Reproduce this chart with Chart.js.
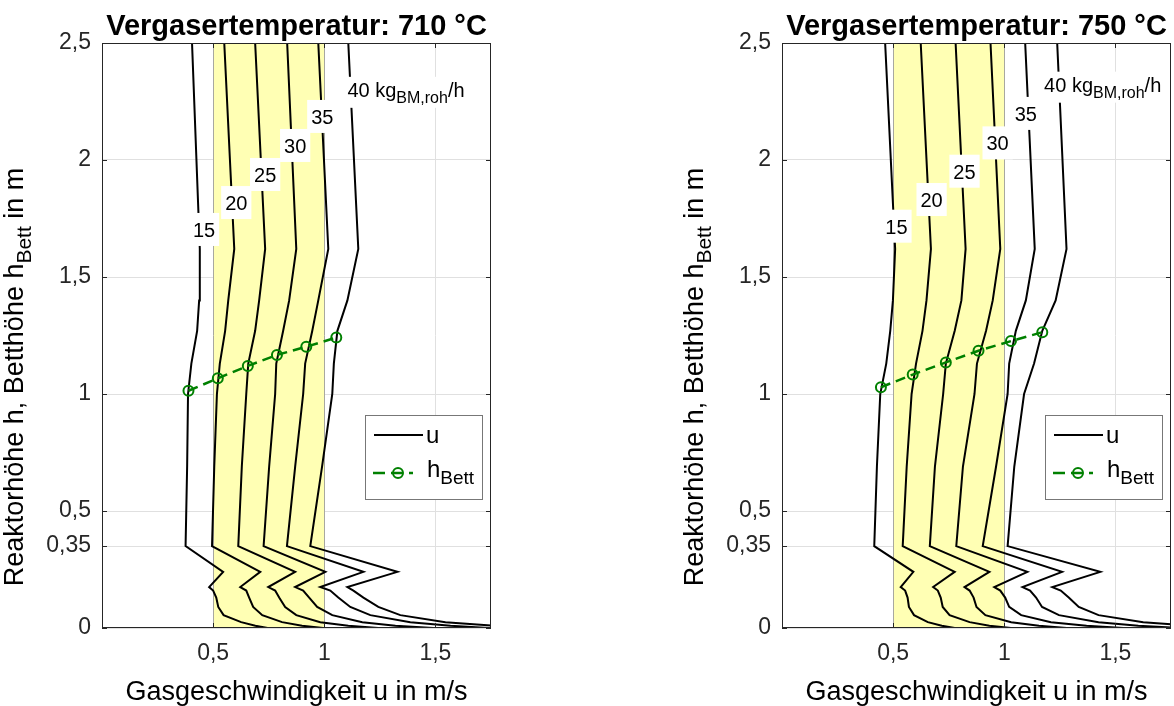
<!DOCTYPE html>
<html>
<head>
<meta charset="utf-8">
<script src="https://cdn.jsdelivr.net/npm/chart.js@4.4.1/dist/chart.umd.min.js"></script>
<style>
  html, body { margin: 0; padding: 0; background: #fff; overflow: hidden; }
  canvas { position: absolute; top: 0; }
  #chart710 { left: 0; }
  #chart750 { left: 680px; }
</style>
</head>
<body>
<canvas id="chart710" width="587" height="706"></canvas>
<canvas id="chart750" width="587" height="706"></canvas>
<script>
const FONT = '"Liberation Sans", Arial, Helvetica, sans-serif';

// Reaktorhöhe h (m), gemeinsame Stützstellen aller Kurven
const heights = [0, 0.01, 0.025, 0.055, 0.09, 0.13, 0.16, 0.175, 0.24, 0.35, 0.69, 1.0, 1.13, 1.27, 1.4, 1.62, 2.5];
const loads = [15, 20, 25, 30, 35, 40];

// Gasgeschwindigkeit u (m/s), 710 °C
const u710_15 = [0.745, 0.69, 0.626, 0.547, 0.523, 0.514, 0.5, 0.482, 0.545, 0.376, 0.383, 0.387, 0.402, 0.428, 0.437, 0.44, 0.405];
const u710_20 = [0.995, 0.9, 0.81, 0.721, 0.68, 0.662, 0.649, 0.622, 0.712, 0.495, 0.505, 0.517, 0.53, 0.554, 0.568, 0.595, 0.55];
const u710_25 = [1.243, 1.108, 0.982, 0.874, 0.824, 0.797, 0.779, 0.748, 0.869, 0.613, 0.629, 0.649, 0.658, 0.689, 0.707, 0.734, 0.689];
const u710_30 = [1.49, 1.32, 1.171, 1.036, 0.968, 0.932, 0.905, 0.869, 1.005, 0.727, 0.752, 0.779, 0.784, 0.815, 0.842, 0.874, 0.833];
const u710_35 = [1.739, 1.568, 1.387, 1.207, 1.117, 1.063, 1.027, 0.982, 1.176, 0.832, 0.869, 0.905, 0.914, 0.946, 0.973, 1.018, 0.973];
const u710_40 = [1.97, 1.757, 1.545, 1.342, 1.243, 1.176, 1.131, 1.104, 1.329, 0.937, 0.99, 1.036, 1.043, 1.059, 1.104, 1.153, 1.108];

// Gasgeschwindigkeit u (m/s), 750 °C
const u750_15 = [0.777, 0.719, 0.656, 0.594, 0.571, 0.565, 0.554, 0.534, 0.591, 0.415, 0.427, 0.442, 0.469, 0.487, 0.499, 0.509, 0.464];
const u750_20 = [1.03, 0.933, 0.844, 0.754, 0.723, 0.714, 0.701, 0.68, 0.777, 0.543, 0.561, 0.583, 0.603, 0.632, 0.65, 0.67, 0.624];
const u750_25 = [1.281, 1.156, 1.031, 0.915, 0.875, 0.862, 0.844, 0.821, 0.933, 0.665, 0.688, 0.725, 0.737, 0.777, 0.807, 0.826, 0.781];
const u750_30 = [1.536, 1.37, 1.21, 1.076, 1.022, 1.004, 0.982, 0.955, 1.104, 0.784, 0.814, 0.866, 0.877, 0.918, 0.948, 0.982, 0.938];
const u750_35 = [1.78, 1.603, 1.424, 1.246, 1.17, 1.143, 1.116, 1.082, 1.26, 0.903, 0.963, 1.015, 1.022, 1.052, 1.097, 1.137, 1.094];
const u750_40 = [2.027, 1.826, 1.625, 1.424, 1.335, 1.29, 1.254, 1.216, 1.432, 1.015, 1.045, 1.089, 1.134, 1.171, 1.231, 1.28, 1.238];

// Betthöhe
const bedU710 = [0.389, 0.521, 0.656, 0.787, 0.919, 1.054];
const bedH710 = [1.014, 1.067, 1.12, 1.167, 1.202, 1.241];
const bedU750 = [0.445, 0.588, 0.737, 0.884, 1.03, 1.171];
const bedH750 = [1.029, 1.083, 1.135, 1.185, 1.226, 1.264];

const xTicks = [0.5, 1, 1.5];
const yTicks = [0, 0.35, 0.5, 1, 1.5, 2, 2.5];
const bandLimits = [0.5, 1];

// Lage der Kurvenbeschriftungen (u, h)
const labelSpots710 = [[0.459, 1.701], [0.604, 1.816], [0.734, 1.936], [0.869, 2.06], [0.991, 2.184], [1.104, 2.27]];
const labelSpots750 = [[0.515, 1.715], [0.673, 1.829], [0.821, 1.95], [0.970, 2.071], [1.097, 2.197], [1.179, 2.292]];

function fmt(v) {
    return String(v).replace('.', ',');
}

function richWidth(ctx, parts, size) {
    let w = 0;
    parts.forEach(([t, sub]) => {
        ctx.font = (sub ? Math.round(size * 0.78) : size) + 'px ' + FONT;
        w += ctx.measureText(t).width;
    });
    return w;
}

function drawRich(ctx, parts, x, y, size) {
    let cx = x;
    parts.forEach(([t, sub]) => {
        ctx.font = (sub ? Math.round(size * 0.78) : size) + 'px ' + FONT;
        ctx.fillText(t, cx, sub ? y + size * 0.3 : y);
        cx += ctx.measureText(t).width;
    });
}

function line(ctx, x1, y1, x2, y2) {
    ctx.beginPath();
    ctx.moveTo(x1, y1);
    ctx.lineTo(x2, y2);
    ctx.stroke();
}

const decorations = {
    id: 'decorations',
    beforeDatasetsDraw(chart) {
        const ctx = chart.ctx, a = chart.chartArea, x = chart.scales.x;
        const x0 = x.getPixelForValue(bandLimits[0]), x1 = x.getPixelForValue(bandLimits[1]);
        ctx.save();
        ctx.fillStyle = '#ffffb4';
        ctx.fillRect(x0, a.top, x1 - x0, a.bottom - a.top);
        ctx.strokeStyle = '#a8a8a0';
        ctx.lineWidth = 1;
        line(ctx, Math.round(x0) + 0.5, a.top, Math.round(x0) + 0.5, a.bottom);
        line(ctx, Math.round(x1) + 0.5, a.top, Math.round(x1) + 0.5, a.bottom);
        ctx.restore();
    },
    afterDatasetsDraw(chart) {
        const ctx = chart.ctx, a = chart.chartArea;
        const xs = chart.scales.x, ys = chart.scales.y;
        const cfg = chart.options.plugins.decorations;
        ctx.save();

        // Kurvenbeschriftungen mit weißem Hintergrund
        ctx.textBaseline = 'alphabetic';
        cfg.labels.forEach(([u, h], i) => {
            const px = xs.getPixelForValue(u), py = ys.getPixelForValue(h);
            if (i < loads.length - 1) {
                const txt = String(loads[i]);
                ctx.font = '20px ' + FONT;
                const w = ctx.measureText(txt).width;
                ctx.fillStyle = '#fff';
                ctx.fillRect(px - w / 2 - 4, py - 17, w + 8, 33);
                ctx.fillStyle = '#000';
                ctx.textAlign = 'center';
                ctx.fillText(txt, px, py + 7);
            } else {
                const parts = [[loads[i] + ' kg', false], ['BM,roh', true], ['/h', false]];
                const w = richWidth(ctx, parts, 20);
                ctx.fillStyle = '#fff';
                ctx.fillRect(px - 5, py - 20, w + 8, 31);
                ctx.fillStyle = '#000';
                ctx.textAlign = 'left';
                drawRich(ctx, parts, px, py, 20);
            }
        });

        // Rahmen und innenliegende Tickmarken
        ctx.strokeStyle = '#262626';
        ctx.lineWidth = 1;
        ctx.strokeRect(a.left + 0.5, a.top + 0.5, a.right - a.left - 1, a.bottom - a.top - 1);
        yTicks.forEach(v => {
            const py = Math.round(ys.getPixelForValue(v)) + 0.5;
            line(ctx, a.left, py, a.left + 5, py);
            line(ctx, a.right - 5, py, a.right, py);
        });
        xTicks.forEach(v => {
            const px = Math.round(xs.getPixelForValue(v)) + 0.5;
            line(ctx, px, a.bottom, px, a.bottom - 5);
            line(ctx, px, a.top, px, a.top + 5);
        });

        // Legende
        const bx = a.left + 263, by = a.top + 372, bw = 117, bh = 84;
        ctx.fillStyle = '#fff';
        ctx.fillRect(bx, by, bw, bh);
        ctx.strokeStyle = '#777';
        ctx.strokeRect(bx + 0.5, by + 0.5, bw, bh);
        ctx.strokeStyle = '#000';
        ctx.lineWidth = 2;
        line(ctx, bx + 9, by + 20, bx + 58, by + 20);
        ctx.fillStyle = '#000';
        ctx.textAlign = 'left';
        ctx.font = '24px ' + FONT;
        ctx.fillText('u', bx + 61, by + 28);
        ctx.strokeStyle = '#008000';
        ctx.lineWidth = 2.5;
        ctx.setLineDash([12, 6]);
        line(ctx, bx + 8, by + 58, bx + 48, by + 58);
        ctx.setLineDash([]);
        ctx.lineWidth = 2;
        ctx.beginPath();
        ctx.arc(bx + 33, by + 58, 5, 0, Math.PI * 2);
        ctx.stroke();
        drawRich(ctx, [['h', false], ['Bett', true]], bx + 62, by + 62, 24);

        // Titel und Achsenbeschriftungen
        const cx = (a.left + a.right) / 2;
        ctx.fillStyle = '#000';
        ctx.textAlign = 'center';
        ctx.font = 'bold 29px ' + FONT;
        ctx.fillText(cfg.title, cx, 35);

        ctx.textAlign = 'left';
        const xParts = [['Gasgeschwindigkeit u in m/s', false]];
        drawRich(ctx, xParts, cx - richWidth(ctx, xParts, 27) / 2, 700, 27);

        const yParts = [['Reaktorhöhe h, Betthöhe h', false], ['Bett', true], [' in m', false]];
        ctx.translate(23, 377);
        ctx.rotate(-Math.PI / 2);
        drawRich(ctx, yParts, -richWidth(ctx, yParts, 27) / 2, 0, 27);
        ctx.restore();
    }
};

function buildChart(id, title, curves, bedU, bedH, labels) {
    const datasets = curves.map((u, k) => ({
        label: 'u ' + loads[k],
        data: heights.map((h, i) => ({ x: u[i], y: h })),
        showLine: true,
        borderColor: '#000',
        borderWidth: 2,
        pointRadius: 0,
        tension: 0,
        order: 1
    }));
    datasets.push({
        label: 'hBett',
        data: bedU.map((u, i) => ({ x: u, y: bedH[i] })),
        showLine: true,
        borderColor: '#008000',
        borderWidth: 2.5,
        borderDash: [10, 6],
        pointRadius: 5,
        pointBorderWidth: 2,
        pointBorderColor: '#008000',
        pointBackgroundColor: 'rgba(0,0,0,0)',
        order: 0
    });

    return new Chart(document.getElementById(id).getContext('2d'), {
        type: 'scatter',
        data: { datasets: datasets },
        options: {
            responsive: false,
            animation: false,
            layout: { padding: { top: 43, right: 96, left: 0, bottom: 0 } },
            plugins: {
                legend: { display: false },
                tooltip: { enabled: false },
                decorations: { title: title, labels: labels }
            },
            scales: {
                x: {
                    type: 'linear',
                    min: 0,
                    max: 1.75,
                    afterBuildTicks: s => { s.ticks = xTicks.map(v => ({ value: v })); },
                    afterFit: s => { s.height = 78; },
                    ticks: {
                        callback: v => fmt(v),
                        color: '#262626',
                        font: { size: 23, family: FONT },
                        padding: 12,
                        maxRotation: 0,
                        autoSkip: false
                    },
                    grid: { color: '#e0e0e0', drawTicks: false },
                    border: { display: false }
                },
                y: {
                    type: 'linear',
                    min: 0,
                    max: 2.5,
                    afterBuildTicks: s => { s.ticks = yTicks.map(v => ({ value: v })); },
                    afterFit: s => { s.width = 102; },
                    ticks: {
                        callback: v => fmt(v),
                        color: '#262626',
                        font: { size: 23, family: FONT },
                        padding: 11,
                        autoSkip: false
                    },
                    grid: { color: '#e0e0e0', drawTicks: false },
                    border: { display: false }
                }
            }
        },
        plugins: [decorations]
    });
}

document.addEventListener('DOMContentLoaded', function() {
    buildChart('chart710', 'Vergasertemperatur: 710 °C',
        [u710_15, u710_20, u710_25, u710_30, u710_35, u710_40], bedU710, bedH710, labelSpots710);
    buildChart('chart750', 'Vergasertemperatur: 750 °C',
        [u750_15, u750_20, u750_25, u750_30, u750_35, u750_40], bedU750, bedH750, labelSpots750);
});
</script>
</body>
</html>
